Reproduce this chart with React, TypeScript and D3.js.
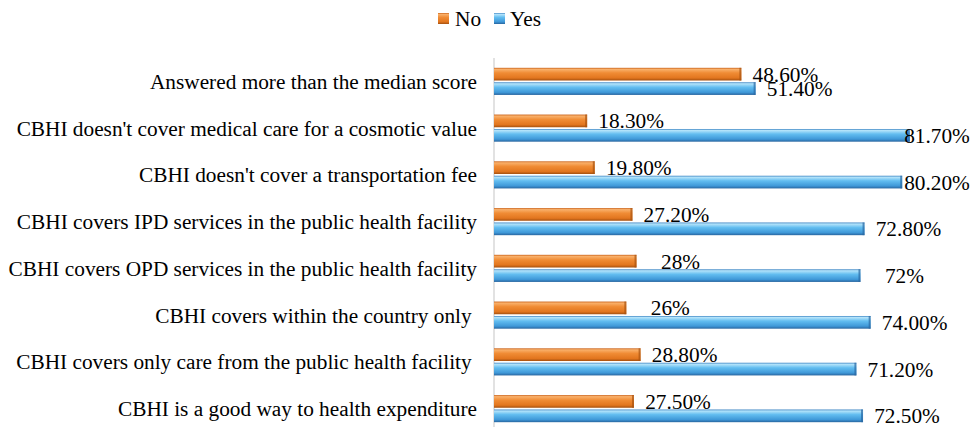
import React from "react";
import * as d3 from "d3";

const categories = [
  "Answered more than the median score",
  "CBHI doesn't cover medical care for a cosmotic value",
  "CBHI doesn't cover a transportation fee",
  "CBHI covers IPD services in the public health facility",
  "CBHI covers OPD services in the public health facility",
  "CBHI covers within the country only\u00A0",
  "CBHI covers only care from the public health facility\u00A0",
  "CBHI is a good way to health expenditure",
];
const noValues = [48.6, 18.3, 19.8, 27.2, 28, 26, 28.8, 27.5];
const yesValues = [51.4, 81.7, 80.2, 72.8, 72, 74, 71.2, 72.5];
const noLabels = ["48.60%", "18.30%", "19.80%", "27.20%", "28%", "26%", "28.80%", "27.50%"];
const yesLabels = ["51.40%", "81.70%", "80.20%", "72.80%", "72%", "74.00%", "71.20%", "72.50%"];
const seriesNames = ["No", "Yes"];

const W = 975;
const H = 427;
const textStyle: React.CSSProperties = { fontFamily: "Liberation Serif", fontSize: "21.3px" };

export default function App() {
  const x = d3.scaleLinear().domain([0, 100]).range([494, 494 + 509]);
  const y = d3
    .scaleBand<string>()
    .domain(categories)
    .range([58, 432])
    .paddingInner(0.42)
    .paddingOuter(0.21);
  const sub = d3
    .scaleBand<string>()
    .domain(seriesNames)
    .range([0, y.bandwidth()])
    .paddingInner(0.12);

  const series = [
    { name: "No", values: noValues, labels: noLabels, fill: "url(#gOrange)" },
    { name: "Yes", values: yesValues, labels: yesLabels, fill: "url(#gBlue)" },
  ];

  return (
    <svg
      width={W}
      height={H}
      style={{ position: "absolute", left: 0, top: 0, background: "#fff" }}
    >
      <defs>
        <linearGradient id="gOrange" x1="0" y1="0" x2="0" y2="1">
          <stop offset="0" stopColor="#c9621a" />
          <stop offset="0.12" stopColor="#f9b06a" />
          <stop offset="0.4" stopColor="#f08c35" />
          <stop offset="0.8" stopColor="#e2761f" />
          <stop offset="1" stopColor="#a5500f" />
        </linearGradient>
        <linearGradient id="gBlue" x1="0" y1="0" x2="0" y2="1">
          <stop offset="0" stopColor="#3f86c4" />
          <stop offset="0.12" stopColor="#b3e3fa" />
          <stop offset="0.4" stopColor="#62bdf0" />
          <stop offset="0.8" stopColor="#3f98d8" />
          <stop offset="1" stopColor="#28659f" />
        </linearGradient>
      </defs>

      {/* Legend */}
      <g>
        <rect x={438} y={13} width={11} height={11} fill="url(#gOrange)" />
        <text x={455} y={26} style={textStyle} fill="#000">No</text>
        <rect x={494} y={13} width={11} height={11} fill="url(#gBlue)" />
        <text x={510} y={26} style={textStyle} fill="#000">Yes</text>
      </g>

      {/* axis line */}
      <line x1={x(0)} x2={x(0)} y1={58} y2={427} stroke="#d9d9d9" strokeWidth={1.5} />

      {/* category labels */}
      {categories.map((c) => (
        <text
          key={c}
          x={477}
          y={(y(c) ?? 0) + y.bandwidth() / 2}
          dy="0.35em"
          textAnchor="end"
          style={textStyle}
          fill="#000"
        >
          {c}
        </text>
      ))}

      {/* bars */}
      {series.map((s) =>
        categories.map((c, i) => {
          const y0 = (y(c) ?? 0) + (sub(s.name) ?? 0);
          const x1 = x(s.values[i]);
          const cx = Math.min(x1 + 44, 937);
          return (
            <g key={s.name + c}>
              <rect
                x={x(0)}
                y={y0}
                width={x1 - x(0)}
                height={sub.bandwidth()}
                fill={s.fill}
              />
              <rect
                x={x1 - 2}
                y={y0}
                width={2}
                height={sub.bandwidth()}
                fill={s.name === "No" ? "#a8520f" : "#2a68a2"}
                opacity={0.7}
              />
              <text
                x={cx}
                y={y0 + sub.bandwidth() / 2}
                dy="0.35em"
                textAnchor="middle"
                style={textStyle}
                fill="#000"
              >
                {s.labels[i]}
              </text>
            </g>
          );
        })
      )}
    </svg>
  );
}
